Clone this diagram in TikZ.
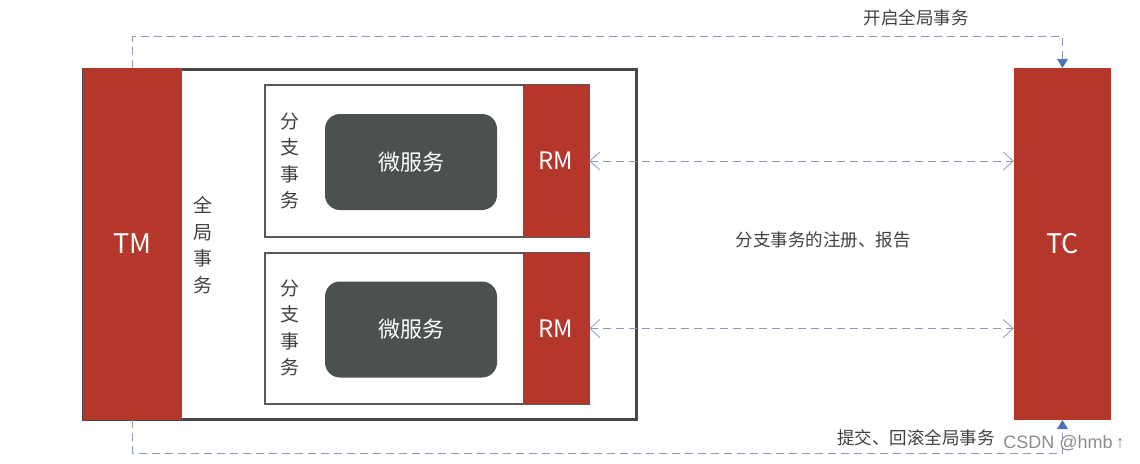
\documentclass[tikz,border=0pt]{standalone}
\usepackage{fontspec}
\setmainfont{Noto Sans CJK SC}
\newfontfamily\wmfont{Liberation Sans}
\usetikzlibrary{arrows.meta}
\definecolor{tred}{HTML}{B5362A}
\definecolor{msgray}{HTML}{4B5051}
\definecolor{dashc}{HTML}{8D9AB6}
\definecolor{tipc}{HTML}{4A72B8}
\definecolor{txtc}{HTML}{404040}
\tikzset{
  redbox/.style={fill=tred, draw=none, text=white, inner sep=0pt, font=\fontsize{27}{30}\selectfont},
  rmbox/.style={fill=tred, draw=none, text=white, inner sep=0pt, font=\fontsize{24}{28}\selectfont},
  branchbox/.style={draw=black!65, line width=1.5pt, fill=white, inner sep=0pt},
  msbox/.style={fill=msgray, rounded corners=15pt, text=white, inner sep=0pt, font=\fontsize{22}{26}\selectfont},
  vlabel/.style={text=txtc, align=center, inner sep=0pt, font=\fontsize{19}{26.5}\selectfont},
  lbl/.style={text=txtc, inner sep=0pt, font=\fontsize{17.5}{20}\selectfont},
  dashline/.style={draw=dashc, line width=0.9pt, dash pattern=on 8pt off 5pt},
  filltip/.style={-{Triangle[length=9pt,width=11pt,fill=tipc,color=tipc]}},
  opentips/.style={{Straight Barb[length=10pt,width=18pt,line width=0.8pt]}-{Straight Barb[length=10pt,width=18pt,line width=0.8pt]}},
}
\begin{document}
\begin{tikzpicture}[x=1pt,y=-1pt]
\useasboundingbox (0,0) rectangle (1140,463);
% outer global transaction frame
\node[draw=black!72, line width=3pt, minimum width=553pt, minimum height=350pt, inner sep=0pt] (outer) at (360,244) {};
\node[redbox, minimum width=99pt, minimum height=352pt] (TM) at (132.5,244) {TM};
\node[vlabel] (glabel) at (203,245) {全\\局\\事\\务};
% branch 1
\node[branchbox, minimum width=324pt, minimum height=152pt] (br1) at (427,161) {};
\node[rmbox, minimum width=66pt, minimum height=152pt] (rm1) at (556,161) {RM};
\node[msbox, minimum width=172pt, minimum height=96pt] (ms1) at (411,162) {微服务};
\node[vlabel] (b1label) at (290,161) {分\\支\\事\\务};
% branch 2
\node[branchbox, minimum width=324pt, minimum height=151pt] (br2) at (427,328.5) {};
\node[rmbox, minimum width=66pt, minimum height=151pt] (rm2) at (556,328.5) {RM};
\node[msbox, minimum width=172pt, minimum height=96pt] (ms2) at (411,329.5) {微服务};
\node[vlabel] (b2label) at (290,328) {分\\支\\事\\务};
% TC
\node[redbox, minimum width=97pt, minimum height=352pt] (TC) at (1062.5,244) {TC};
% connectors
\draw[dashline, filltip] (TM.north) -- ++(0,-31) -| (TC.north);
\draw[dashline, filltip] (TM.south) -- ++(0,33) -| (TC.south);
\draw[dashline, opentips] (rm1.east) -- (rm1.east -| TC.west);
\draw[dashline, opentips] (rm2.east) -- (rm2.east -| TC.west);
% labels
\node[lbl] (l1) at (916,18) {开启全局事务};
\node[lbl] (l2) at (823,240) {分支事务的注册、报告};
\node[lbl] (l3) at (916,438) {提交、回滚全局事务};
\node[text=black!45, inner sep=0pt, font=\wmfont\fontsize{18}{20}\selectfont] (wm) at (1064,443) {CSDN @hmb\,\textuparrow};
\end{tikzpicture}
\end{document}
